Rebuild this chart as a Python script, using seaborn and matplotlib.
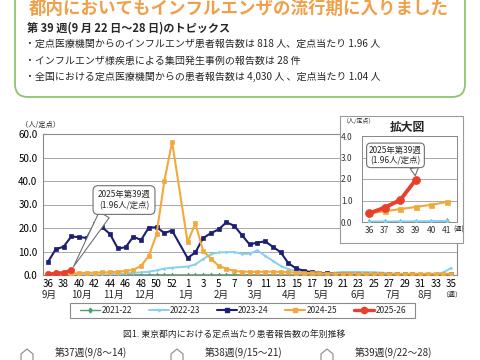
import matplotlib
matplotlib.use("Agg")
import matplotlib.pyplot as plt
from matplotlib.patches import FancyBboxPatch, Rectangle, Polygon
from matplotlib.lines import Line2D
import seaborn as sns

sns.set_style("white")
plt.rcParams['font.family'] = ['Noto Sans CJK JP', 'DejaVu Sans']

# x軸は53週分 (第53週は今回データなし)
axis_weeks = list(range(36, 54)) + list(range(1, 36))
season_weeks = list(range(36, 53)) + list(range(1, 36))

seasons = ["2021-22", "2022-23", "2023-24", "2024-25", "2025-26"]

v_2021_22 = [0.02, 0.02, 0.01, 0.02, 0.02, 0.03, 0.02, 0.03, 0.03, 0.04, 0.04, 0.05, 0.05, 0.05, 0.06, 0.06, 0.05,
             0.05, 0.05, 0.06, 0.06, 0.06, 0.07, 0.07, 0.06, 0.06, 0.05, 0.05, 0.05, 0.04, 0.04, 0.04, 0.04, 0.03,
             0.03, 0.03, 0.03, 0.03, 0.03, 0.02, 0.02, 0.02, 0.02, 0.02, 0.02, 0.02, 0.02, 0.02, 0.02, 0.02, 0.02, 0.02]
v_2022_23 = [0.02, 0.02, 0.03, 0.03, 0.04, 0.05, 0.1, 0.2, 0.3, 0.5, 0.7, 0.9, 1.1, 1.4, 2.0, 2.7, 3.1,
             3.6, 4.5, 6.8, 8.8, 9.6, 9.7, 9.8, 9.0, 9.0, 10.5, 8.2, 6.0, 3.9, 2.5, 1.7, 1.1, 0.8,
             0.6, 0.6, 1.0, 1.3, 1.3, 1.3, 1.2, 1.2, 1.0, 0.7, 0.5, 0.4, 0.4, 0.4, 0.4, 0.5, 1.1, 3.0]
v_2023_24 = [5.6, 11.0, 12.0, 16.4, 16.1, 15.8, 21.6, 20.3, 17.4, 11.3, 11.8, 16.3, 14.9, 20.2, 20.3, 17.9, 18.9,
             7.2, 9.6, 15.7, 17.8, 19.4, 22.4, 21.0, 17.0, 13.0, 13.8, 14.3, 12.0, 9.7, 5.0, 2.8, 1.8, 1.2,
             0.9, 0.7, 0.6, 0.5, 0.5, 0.4, 0.4, 0.4, 0.3, 0.3, 0.3, 0.3, 0.3, 0.2, 0.2, 0.2, 0.2, 0.3]
v_2024_25 = [0.4, 0.5, 0.6, 0.7, 0.8, 0.93, 1.0, 1.1, 1.2, 1.4, 1.7, 2.2, 3.9, 8.1, 17.4, 39.9, 56.7,
             13.9, 22.0, 10.3, 7.0, 3.9, 2.7, 1.7, 1.4, 1.4, 1.3, 1.4, 1.4, 1.3, 1.2, 1.0, 0.9, 0.8,
             0.7, 0.6, 0.6, 0.6, 0.6, 0.5, 0.5, 0.5, 0.5, 0.5, 0.5, 0.5, 0.5, 0.5, 0.5, 0.5, 0.5, 0.5]
v_2025_26 = [0.40, 0.67, 1.02, 1.96]

month_labels = ["9月", "10月", "11月", "12月", "1月", "2月", "3月", "4月", "5月", "6月", "7月", "8月"]
inset_weeks = [36, 37, 38, 39, 40, 41]

topic_title = "第 39 週(9 月 22 日～28 日)のトピックス"
topics = ["・定点医療機関からのインフルエンザ患者報告数は 818 人、定点当たり 1.96 人",
          "・インフルエンザ様疾患による集団発生事例の報告数は 28 件",
          "・全国における定点医療機関からの患者報告数は 4,030 人 、定点当たり 1.04 人"]
week_heads = ["第37週(9/8～14)", "第38週(9/15～21)", "第39週(9/22～28)"]

# 見た目
styles = {
    "2021-22": dict(c="#4AA26A", m="d", ms=2.5, lw=1.0, z=2),
    "2022-23": dict(c="#86D0F0", m="d", ms=1.5, lw=1.4, z=3),
    "2023-24": dict(c="#1E1F70", m="s", ms=2.3, lw=1.5, z=4),
    "2024-25": dict(c="#F2A93B", m="s", ms=3.0, lw=1.5, z=5),
    "2025-26": dict(c="#E8402C", m="o", ms=4.5, lw=2.4, z=6),
}
month_x = [0.2, 4.35, 8.5, 12.45, 17.8, 22.3, 26.7, 31.1, 35.2, 40.0, 44.5, 48.6]
grid_c = "#A8A8A8"


def P(x, y):
    # ピクセル位置 -> インチ (fig.dpi_scale_trans 用)
    return (x / 100, (360 - y) / 100)


fig = plt.figure(figsize=(4.8, 3.6), dpi=100)
T = fig.dpi_scale_trans

# ---- 上部のトピックス枠 ----
fig.add_artist(FancyBboxPatch(P(15, 97), 4.5, 1.3, boxstyle="round,pad=0,rounding_size=0.13",
                              transform=T, fc="none", ec="#8DC56C", lw=1.3))
fig.text(*P(239, 9), "都内においてもインフルエンザの流行期に入りました", transform=T,
         ha="center", va="center", fontsize=12.6, fontweight="bold", color="#F0A04B")
fig.text(*P(27, 28), topic_title, transform=T, ha="left", va="center", fontsize=8, fontweight="bold")
for i, t in enumerate(topics):
    fig.text(*P(25, 44 + 16.5 * i), t, transform=T, ha="left", va="center", fontsize=7.2)

# ---- メイングラフ ----
ax = fig.add_axes([43 / 480, (360 - 275) / 360, 414 / 480, 141 / 360])
for name, vals in zip(seasons, [v_2021_22, v_2022_23, v_2023_24, v_2024_25, v_2025_26]):
    st = styles[name]
    x = [axis_weeks.index(w) for w in season_weeks[:len(vals)]]
    sns.lineplot(x=x, y=vals, ax=ax, color=st["c"], lw=st["lw"], marker=st["m"], markersize=st["ms"],
                 markeredgecolor=st["c"], markeredgewidth=0.5, zorder=st["z"], legend=False)

ax.set_xlim(-0.65, 52.75)
ax.set_ylim(0, 60)
ax.set_yticks(range(0, 61, 10))
ax.set_yticklabels([f"{v:.1f}" for v in range(0, 61, 10)])
ax.set_xticks(range(0, 53, 2))
ax.set_xticklabels([str(axis_weeks[i]) for i in range(0, 53, 2)])
ax.tick_params(axis="both", length=0, labelsize=7, colors="black")
ax.tick_params(axis="y", pad=4)
ax.tick_params(axis="x", pad=3)
ax.grid(axis="y", color=grid_c, lw=0.7)
for s in ax.spines.values():
    s.set_color("#8A8A8A")
    s.set_linewidth(0.8)
ax.set_xlabel("")
ax.set_ylabel("")
for lab, px in zip(month_labels, month_x):
    ax.text(px, -0.145, lab, transform=ax.get_xaxis_transform(), ha="center", va="center", fontsize=7)
ax.text(52, -0.14, "（週）", transform=ax.get_xaxis_transform(), ha="center", va="center", fontsize=5)
fig.text(*P(41, 125), "（人/定点）", transform=T, ha="center", va="center", fontsize=5.2)

ax.annotate("2025年第39週\n(1.96人/定点)", xy=(axis_weeks.index(39), v_2025_26[-1]), xytext=(9.8, 31.9),
            ha="center", va="center", fontsize=6, zorder=10,
            bbox=dict(boxstyle="round,pad=0.55,rounding_size=0.6", fc="white", ec="#707070", lw=0.8),
            arrowprops=dict(arrowstyle="wedge,tail_width=1.4,shrink_factor=0.5", fc="white", ec="#707070",
                            lw=0.8, relpos=(0.18, 0), shrinkA=0, shrinkB=3))

# ---- 拡大図 ----
fig.add_artist(Rectangle(P(340, 243), 1.23, 1.27, transform=T, fc="white", ec="#9A9A9A", lw=0.8, zorder=2))
ax2 = fig.add_axes([362 / 480, (360 - 222) / 360, 95 / 480, 86 / 360])
ax2.set_zorder(3)
for name, vals in zip(seasons, [v_2021_22, v_2022_23, v_2023_24, v_2024_25, v_2025_26]):
    if name == "2023-24":
        continue
    st = styles[name]
    n = min(len(vals), len(inset_weeks))
    big = name == "2025-26"
    sns.lineplot(x=inset_weeks[:n], y=vals[:n], ax=ax2, color=st["c"], lw=st["lw"] + (0.4 if big else 0),
                 marker=st["m"], markersize=st["ms"] + (1.2 if big else 0.6),
                 markeredgecolor=st["c"], markeredgewidth=0.5, zorder=st["z"], legend=False)
ax2.set_xlim(35.55, 41.65)
ax2.set_ylim(0, 4)
ax2.set_yticks(range(0, 5))
ax2.set_yticklabels([f"{v:.1f}" for v in range(0, 5)])
ax2.set_xticks(inset_weeks)
ax2.tick_params(axis="both", length=0, labelsize=6, colors="#333333")
ax2.tick_params(axis="y", pad=7)
ax2.tick_params(axis="x", pad=3)
ax2.grid(axis="y", color=grid_c, lw=0.7)
for s in ax2.spines.values():
    s.set_color("#8A8A8A")
    s.set_linewidth(0.7)
ax2.set_xlabel("")
ax2.set_ylabel("")
ax2.annotate("2025年第39週\n(1.96人/定点)", xy=(39, v_2025_26[-1]), xytext=(37.7, 3.1),
             ha="center", va="center", fontsize=6, zorder=10,
             bbox=dict(boxstyle="round,pad=0.3,rounding_size=0.5", fc="white", ec="#707070", lw=0.8),
             arrowprops=dict(arrowstyle="wedge,tail_width=1.0,shrink_factor=0.5", fc="white", ec="#707070",
                             lw=0.8, relpos=(0.85, 0), shrinkA=0, shrinkB=3))
fig.text(*P(359, 121), "（人/定点）", transform=T, ha="center", va="center", fontsize=4.3, zorder=4)
fig.text(*P(407, 127), "拡大図", transform=T, ha="center", va="center", fontsize=8.5,
         fontweight="bold", zorder=4)
fig.text(*P(459, 230), "(週)", transform=T, ha="center", va="center", fontsize=4.5, zorder=4)

# ---- 凡例 ----
handles = [Line2D([], [], color=styles[n]["c"], lw=styles[n]["lw"], marker=styles[n]["m"],
                  markersize=styles[n]["ms"], markeredgecolor=styles[n]["c"]) for n in seasons]
fig.add_artist(Rectangle(P(70, 318), 3.45, 0.15, transform=T, fc="white", ec="#8A8A8A", lw=0.8))
fig.legend(handles, seasons, loc="center", bbox_to_anchor=P(243, 310.5), bbox_transform=T,
           ncol=5, frameon=False, fontsize=6, handlelength=2.4, handletextpad=0.15,
           columnspacing=2.0, borderpad=0.1)

fig.text(*P(234, 335), "図1. 東京都内における定点当たり患者報告数の年別推移", transform=T,
         ha="center", va="center", fontsize=6.4)

# ---- 下の見出し (切れている) ----
for i, t in enumerate(week_heads):
    x0 = 27 + 150 * i
    fig.add_artist(Polygon([P(x0 - 6, 362), P(x0 - 6, 354), P(x0, 349), P(x0 + 6, 354), P(x0 + 6, 362)],
                           closed=False, transform=T, fill=False, ec="#888888", lw=0.8))
    fig.text(*P(x0 + 28, 353), t, transform=T, ha="left", va="center", fontsize=7)

fig.savefig("out.png", dpi=100)
